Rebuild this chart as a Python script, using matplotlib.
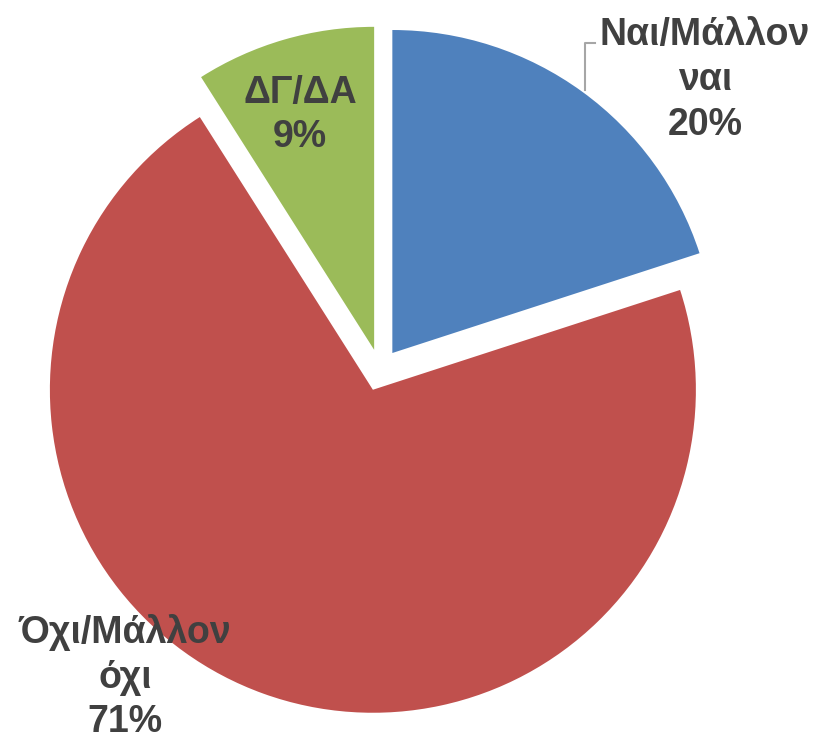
import matplotlib
matplotlib.use("Agg")
import matplotlib.pyplot as plt

labels = ["Ναι/Μάλλον\nναι", "Όχι/Μάλλον\nόχι", "ΔΓ/ΔΑ"]
values = [20, 71, 9]
colors = ["#4F81BD", "#C0504D", "#9BBB59"]

plt.rcParams["font.family"] = ["Liberation Sans", "DejaVu Sans"]

W, H = 831, 739
fig = plt.figure(figsize=(W / 100, H / 100), dpi=100)
ax = fig.add_axes([0, 0, 1, 1])

cx, cy, r = 380, H - 370, 323
# explode is in data units here (radius is in pixels)
ax.pie(
    values,
    colors=colors,
    startangle=90,
    counterclock=False,
    explode=[21] * len(values),
    center=(cx, cy),
    radius=r,
    frame=True,
)
ax.set_xlim(0, W)
ax.set_ylim(0, H)
ax.set_aspect("equal")
ax.axis("off")

txt = dict(ha="center", va="center", fontsize=27, fontweight="bold",
           color="#404040", linespacing=1.32)
pos = [(705, H - 80), (125, H - 677), (300, H - 115)]
for (x, y), lab, v in zip(pos, labels, values):
    ax.text(x, y, f"{lab}\n{v}%", **txt)

# leader line for the first label
ax.plot([595, 585, 585], [H - 43, H - 43, H - 90], color="#A6A6A6", lw=1.5)

fig.savefig("out.png", dpi=100)
